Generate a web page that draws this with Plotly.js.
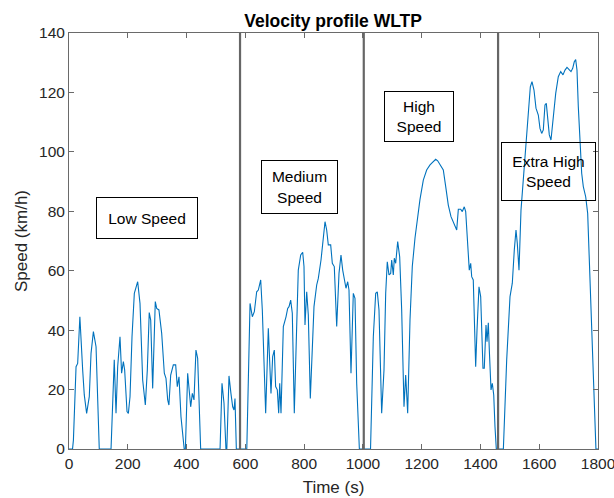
<!DOCTYPE html>
<html>
<head>
<meta charset="utf-8">
<script src="https://cdn.plot.ly/plotly-3.0.1.min.js"></script>
<style>html,body{margin:0;padding:0;background:#fff;overflow:hidden;}#chart{width:614px;height:498px;}</style>
</head>
<body>
<div id="chart"></div>
<script>
// Time (s)
var timeS = [
  0, 12, 15, 24, 29.5, 37, 46.5, 52, 60, 69,
  75, 83, 92, 103, 143, 148.6, 154, 160, 165.6, 173.5,
  179, 185, 189.4, 197.4, 202, 207.6, 214.4, 222.3, 233.7, 241.6,
  250.7, 259.7, 266.5, 273, 278, 284.7, 293.6, 298.4, 306, 315.4,
  324.3, 330, 335.8, 340, 346, 355, 363, 368.5, 374.3, 381,
  392, 396, 403.8, 414, 419.7, 425.3, 432, 437.8, 448, 514,
  520.6, 527.4, 534, 537, 544.4, 551, 557, 561.4, 564.8, 569.4,
  605, 616, 623.8, 630.6, 638.6, 644.2, 652.3, 657.8, 669.2, 678.2,
  687.3, 693, 698.6, 703.1, 708.8, 713.5, 717, 721.4, 729.3, 738.4,
  744.1, 748.6, 754.3, 759.8, 766.6, 774.7, 780.2, 788.4, 795.2, 799.6,
  803, 808.8, 814.3, 821.1, 827.9, 833.6, 842.8, 848.3, 857.5, 865.4,
  871.1, 876.8, 882.3, 890.4, 896, 902.7, 910.9, 918.7, 925.5, 931.3,
  936.8, 942.5, 948.3, 952.7, 959.5, 967.4, 973.1, 978.9, 988, 1026,
  1035.5, 1043.6, 1049, 1054.8, 1063.9, 1071.8, 1077.6, 1083, 1088.8, 1094.6,
  1098, 1103.5, 1106.9, 1111.6, 1118.4, 1125.2, 1132, 1139.9, 1145.6, 1152.4,
  1160.3, 1168.1, 1177.3, 1186.5, 1194.3, 1205.6, 1217, 1228.4, 1239.6, 1247.7,
  1254.5, 1262.4, 1273.6, 1281.8, 1290.6, 1299.8, 1307.6, 1313.4, 1319.2, 1324.8,
  1332.8, 1338.2, 1345, 1349.8, 1356.6, 1362, 1366.8, 1370.2, 1375.6, 1383.8,
  1388.3, 1395, 1400.8, 1408.6, 1413, 1418.9, 1422.3, 1426.8, 1430.2, 1436,
  1440.4, 1445.2, 1449.5, 1454, 1478, 1489.3, 1500.6, 1508.4, 1515.2, 1521,
  1525.4, 1531.2, 1538, 1545.9, 1554, 1562.9, 1569.7, 1575.4, 1582.2, 1589,
  1596.9, 1602.6, 1608.4, 1613.9, 1619.6, 1624.1, 1628.8, 1634.3, 1640, 1647.9,
  1656.1, 1664.9, 1673.1, 1680.9, 1687.7, 1694.5, 1701.3, 1708.1, 1713.9, 1719.3,
  1724.1, 1728.5, 1733, 1738.7, 1744.5, 1750, 1758.1, 1764.9, 1772.7, 1780.6,
  1787.3, 1793, 1800
];
// Speed (km/h)
var speedKmh = [
  0, 0, 3, 27.7, 28.8, 44.5, 26.6, 18.2, 12, 17.6,
  32.2, 39.5, 34.4, 0, 0, 18.7, 30, 12, 27.7, 37.8,
  25.5, 29.4, 26.6, 12.6, 12, 17.6, 37.8, 52.4, 56.3, 49,
  23.2, 14.8, 26.6, 45.9, 43.4, 20.4, 49.6, 47.3, 46.8, 38.9,
  25.5, 23.8, 16.5, 14.8, 24.9, 28.3, 28.3, 21, 24.3, 10.9,
  0, 0, 25.5, 14.2, 18.7, 16.5, 33.3, 30.5, 0, 0,
  22.1, 15.4, 0, 0, 24.6, 18.7, 14.2, 13.1, 17, 0,
  0, 49, 44.5, 46.2, 52.9, 53.5, 56.9, 46.8, 12, 40.6,
  18.7, 31.1, 33.3, 21, 19.9, 12, 22.1, 12, 41.2, 44.5,
  47.3, 47.9, 50.1, 45.7, 12, 41.2, 60.2, 65.3, 66.2, 61.4,
  41.7, 52.9, 45.1, 17, 36.7, 47.9, 55.2, 57.4, 63.6, 71.4,
  76.5, 73.7, 68.7, 68.7, 62.5, 61.4, 41.2, 59.1, 65.3, 60.2,
  56.9, 54.1, 56.3, 53.5, 25.5, 52.4, 50.7, 22.1, 0, 0,
  37.8, 52.4, 52.9, 46.8, 12, 26.6, 52.4, 63, 58.6, 59.1,
  63.6, 58.6, 64.2, 62.5, 69.8, 64.7, 46.8, 14.2, 24.9, 12,
  43.4, 61.4, 71, 78.2, 84, 90.5, 93.9, 95.6, 96.7, 97.5,
  97, 95.6, 93.9, 88.3, 82.1, 78.2, 76.5, 75.4, 73.7, 80.7,
  80.7, 79.9, 81.5, 79.9, 70.3, 60.2, 62.5, 58, 56.9, 27.7,
  40, 54.6, 51.3, 27.2, 27.2, 41.7, 36.1, 42.5, 33.3, 19.9,
  22.1, 18.2, 7.5, 0, 0, 30, 51.3, 55.8, 67, 73.7,
  69.2, 60.2, 80.4, 91.6, 102.9, 114.1, 121.9, 123.6, 120.8, 114.7,
  112.4, 107.9, 106.2, 107.4, 115.8, 116.3, 111.8, 105.7, 104, 111.8,
  119.7, 125.3, 127, 125.9, 127.5, 128.4, 127.5, 127, 128.1, 130.3,
  131.1, 127.5, 115.2, 102.9, 92.8, 88.3, 84.9, 79.3, 58, 37.8,
  19.9, 0, 0
];
// Phase boundaries (s)
var phaseBounds = [582, 1003, 1460];
// Phase labels
var phaseLabels = ['Low Speed', 'Medium<br>Speed', 'High<br>Speed', 'Extra High<br>Speed'];
var xTicks = [0, 200, 400, 600, 800, 1000, 1200, 1400, 1600, 1800];
var yTicks = [0, 20, 40, 60, 80, 100, 120, 140];

// label placement (data coords) and box sizes (px)
var labelPos = [[265, 77.7], [784, 88.2], [1191, 111.9], [1631, 93.4]];
var labelBox = [[100, 40], [75, 52], [68, 49], [93, 57]];

var FONT = 'Liberation Sans, Arial, Helvetica, sans-serif';
var AX = '#6a6a6a';

var trace = {
  x: timeS, y: speedKmh, type: 'scatter', mode: 'lines',
  line: {color: '#0072BD', width: 1.1}, hoverinfo: 'skip', showlegend: false
};

var shapes = phaseBounds.map(function (b) {
  return {type: 'line', xref: 'x', yref: 'paper', x0: b, x1: b, y0: 0, y1: 1,
          line: {color: '#666666', width: 2.2}, layer: 'above'};
});

var annotations = phaseLabels.map(function (lab, i) {
  return {x: labelPos[i][0], y: labelPos[i][1], xref: 'x', yref: 'y', text: lab,
          showarrow: false, font: {family: FONT, size: 15.5, color: '#000'},
          bordercolor: '#000', borderwidth: 1, borderpad: 0,
          width: labelBox[i][0], height: labelBox[i][1], align: 'center', valign: 'middle'};
});

var layout = {
  width: 614, height: 498,
  margin: {l: 69, r: 16, t: 33, b: 49, pad: 0},
  paper_bgcolor: '#fff', plot_bgcolor: '#fff',
  font: {family: FONT, size: 15, color: '#262626'},
  title: {text: '<b>Velocity profile WLTP</b>', x: 0.5425, xanchor: 'center', y: 0.958, yanchor: 'middle',
          font: {family: FONT, size: 17.5, color: '#000'}},
  xaxis: {range: [0, 1800], tickvals: xTicks, ticktext: xTicks.map(String),
          ticks: 'inside', ticklen: 5, tickcolor: AX, tickwidth: 1,
          showline: true, linecolor: AX, linewidth: 1, mirror: 'ticks',
          showgrid: false, zeroline: false, ticklabeloverflow: 'allow',
          tickfont: {family: FONT, size: 15.5, color: '#262626'},
          title: {text: 'Time (s)', font: {family: FONT, size: 17, color: '#262626'}, standoff: 10}},
  yaxis: {range: [0, 140], tickvals: yTicks, ticktext: yTicks.map(String),
          ticks: 'inside', ticklen: 5, tickcolor: AX, tickwidth: 1,
          showline: true, linecolor: AX, linewidth: 1, mirror: 'ticks',
          showgrid: false, zeroline: false,
          tickfont: {family: FONT, size: 15.5, color: '#262626'},
          title: {text: 'Speed (km/h)', font: {family: FONT, size: 17, color: '#262626'}, standoff: 7}},
  shapes: shapes,
  annotations: annotations,
  showlegend: false
};

Plotly.newPlot('chart', [trace], layout, {displayModeBar: false, staticPlot: true});
</script>
</body>
</html>
